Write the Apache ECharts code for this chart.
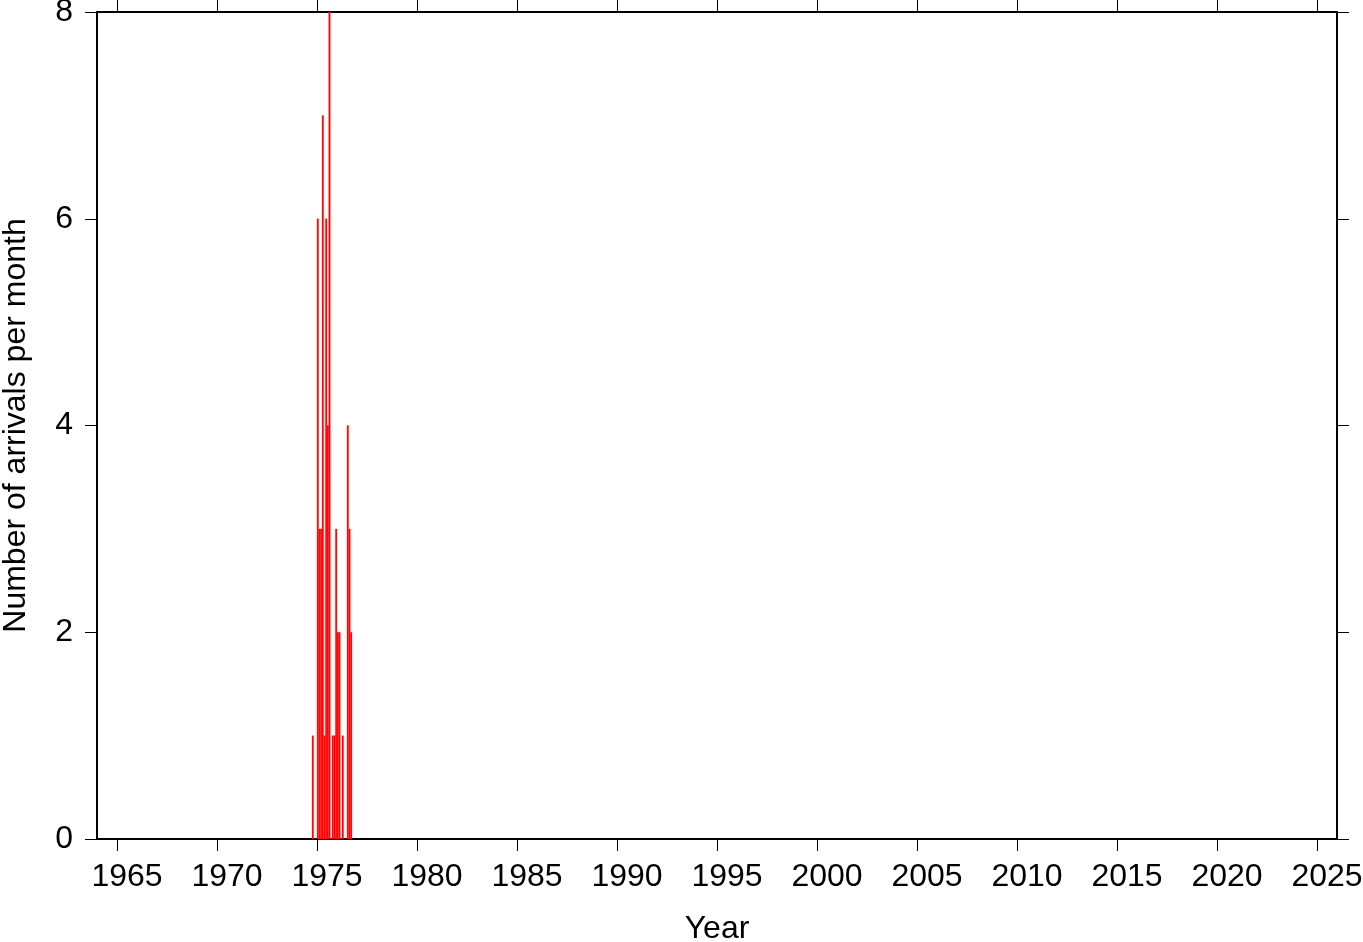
<!DOCTYPE html>
<html>
<head>
<meta charset="utf-8">
<script src="https://cdn.jsdelivr.net/npm/echarts@6/dist/echarts.min.js"></script>
<style>
html,body{margin:0;padding:0;background:#fff;}
#chart{width:1363px;height:942px;}
</style>
</head>
<body>
<div id="chart"></div>
<script>
// Monthly arrival counts (year, month 1-12, count)
const years  = [1974, 1975, 1975, 1975, 1975, 1975, 1975, 1975, 1975, 1975, 1975, 1975, 1976, 1976, 1976, 1976, 1976, 1976];
const months = [10,   1,    2,    3,    4,    5,    6,    7,    8,    10,   11,   12,   1,    2,    4,    7,    8,    9];
const counts = [1,    6,    3,    3,    7,    1,    6,    4,    8,    1,    1,    3,    2,    2,    1,    4,    3,    2];

const xTicks = [1965, 1970, 1975, 1980, 1985, 1990, 1995, 2000, 2005, 2010, 2015, 2020, 2025];
const yTicks = [0, 2, 4, 6, 8];

const data = years.map((y, i) => [y + (months[i] - 1) / 12, y + months[i] / 12, counts[i]]);

const FONT = 'Liberation Sans';
const chart = echarts.init(document.getElementById('chart'));
const axisLine = {show: true, onZero: false, lineStyle: {color: '#000', width: 2}};
const tick = {show: true, inside: false, length: 12, lineStyle: {color: '#000', width: 1}};

chart.setOption({
  animation: false,
  backgroundColor: '#fff',
  grid: {left: 97, right: 26, top: 12, bottom: 103, containLabel: false, outerBoundsMode: 'none'},
  xAxis: [{
    type: 'value', position: 'bottom', min: 1964, max: 2026,
    axisLine: axisLine,
    axisTick: Object.assign({customValues: xTicks}, tick),
    axisLabel: {customValues: xTicks, color: '#000', fontFamily: FONT, fontSize: 32, margin: 22,
                padding: [0, 0, 0, 20], formatter: v => String(v)},
    splitLine: {show: false},
    name: 'Year', nameLocation: 'middle', nameGap: 74,
    nameTextStyle: {color: '#000', fontFamily: FONT, fontSize: 32}
  }, {
    type: 'value', position: 'top', min: 1964, max: 2026,
    axisLine: axisLine,
    axisTick: Object.assign({customValues: xTicks}, tick),
    axisLabel: {show: false},
    splitLine: {show: false}
  }],
  yAxis: [{
    type: 'value', position: 'left', min: 0, max: 8, interval: 2,
    axisLine: axisLine,
    axisTick: Object.assign({customValues: yTicks}, tick),
    axisLabel: {customValues: yTicks, color: '#000', fontFamily: FONT, fontSize: 32, margin: 24},
    splitLine: {show: false},
    name: 'Number of arrivals per month', nameLocation: 'middle', nameGap: 65,
    nameTextStyle: {color: '#000', fontFamily: FONT, fontSize: 32}
  }, {
    type: 'value', position: 'right', min: 0, max: 8, interval: 2,
    axisLine: axisLine,
    axisTick: Object.assign({customValues: yTicks}, tick),
    axisLabel: {show: false},
    splitLine: {show: false}
  }],
  series: [{
    type: 'custom',
    xAxisIndex: 0, yAxisIndex: 0,
    encode: {x: [0, 1], y: 2},
    data: data,
    renderItem: function (params, api) {
      const p0 = api.coord([api.value(0), api.value(2)]);
      const p1 = api.coord([api.value(1), 0]);
      return {
        type: 'rect',
        shape: {x: p0[0], y: p0[1], width: p1[0] - p0[0], height: p1[1] - p0[1]},
        style: {fill: '#ff0000', stroke: '#ff3030', lineWidth: 0.3}
      };
    }
  }]
});
</script>
</body>
</html>
